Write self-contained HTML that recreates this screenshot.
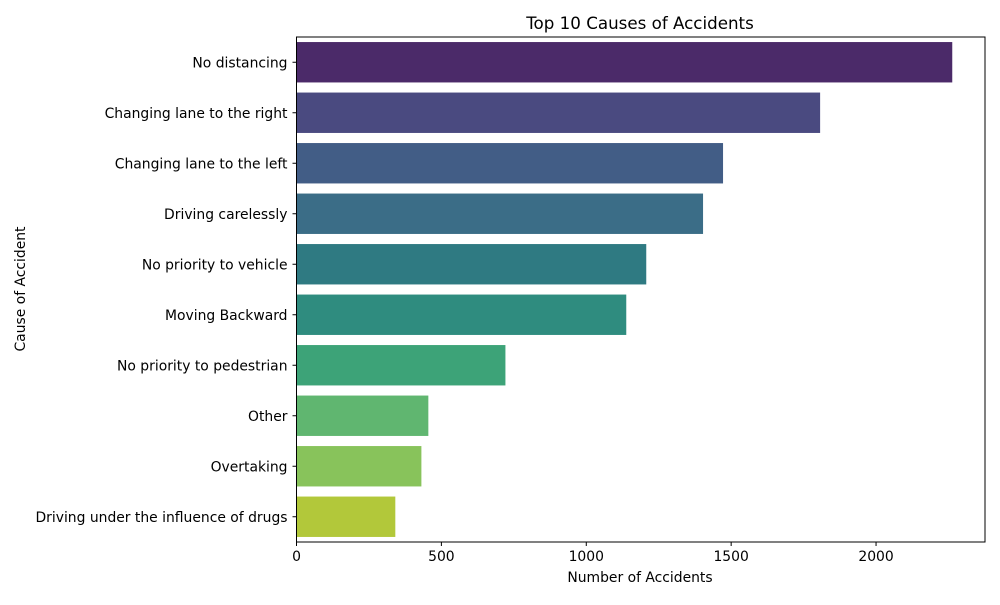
<!DOCTYPE html>
<html><head><meta charset="utf-8"><style>
body{margin:0;background:#fff}
svg text{font-family:"DejaVu Sans","Liberation Sans",sans-serif;fill:#000}
</style></head><body>
<svg id="chart" width="1000" height="600" viewBox="0 0 1000 600" xmlns="http://www.w3.org/2000/svg">
<text x="640" y="29" font-size="16.7" text-anchor="middle">Top 10 Causes of Accidents</text>
<text x="640" y="582" font-size="13.9" text-anchor="middle">Number of Accidents</text>
<text x="25" y="289" font-size="13.9" text-anchor="middle" transform="rotate(-90 25 289)">Cause of Accident</text>
<g id="bars"></g><g id="axes"></g>
</svg>
<script>
const categories=["No distancing","Changing lane to the right","Changing lane to the left","Driving carelessly","No priority to vehicle","Moving Backward","No priority to pedestrian","Other","Overtaking","Driving under the influence of drugs"];
const values=[2263,1807,1472,1403,1207,1138,721,455,431,341];
const xTicks=[0,500,1000,1500,2000];
const colors=["#4b2a69","#4a4a80","#425d86","#3b6d87","#2f7a82","#2f8c7f","#3da378","#60b670","#88c35b","#b2c83a"];
const L=296.5,R=985,T=37,B=542,xMax=2376;
const ns="http://www.w3.org/2000/svg";
const x=v=>L+v/xMax*(R-L);
const band=(B-T)/categories.length;
const bars=document.getElementById('bars'),axes=document.getElementById('axes');
function mk(tag,at,p){const e=document.createElementNS(ns,tag);for(const k in at)e.setAttribute(k,at[k]);p.appendChild(e);return e;}
categories.forEach((c,i)=>{
 const yc=T+band*(i+0.5);
 const r=mk('rect',{x:L,y:yc-band*0.4,width:x(values[i])-L,height:band*0.8,fill:colors[i]},bars);
 
 
 mk('line',{x1:L-4,x2:L,y1:yc,y2:yc,stroke:'#000'},axes);
 const t=mk('text',{x:L-9,y:yc+5,'font-size':13.9,'text-anchor':'end'},axes);
 t.textContent=c;
 
 
});
xTicks.forEach(v=>{
 mk('line',{x1:x(v),x2:x(v),y1:B,y2:B+4,stroke:'#000'},axes);
 const t=mk('text',{x:x(v),y:B+19,'font-size':13.9,'text-anchor':'middle'},axes);
 t.textContent=v;
 
 
});
mk('rect',{x:L,y:T,width:R-L,height:B-T,fill:'none',stroke:'#000','stroke-width':1},axes);
</script>
</body></html>
